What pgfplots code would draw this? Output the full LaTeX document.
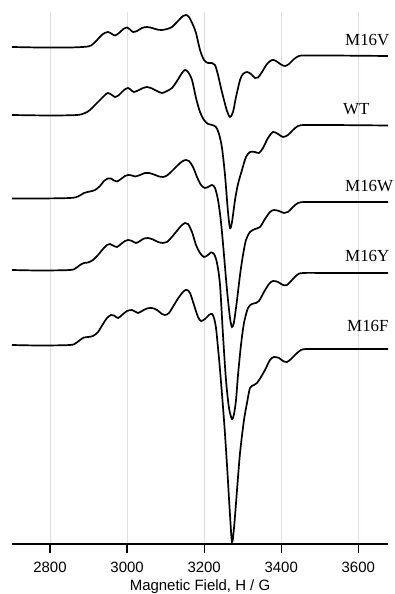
\documentclass[border=0pt]{standalone}
\usepackage{pgfplots}
\pgfplotsset{compat=1.18}
\usepackage{fontspec}
\setmainfont{Liberation Serif}
\newfontfamily\sansf{Liberation Sans}
\definecolor{gridc}{RGB}{222,222,234}

\pgfplotstableread{
x y
2701.4 -47
2774.0 -47.5
2851.9 -47.5
2898.6 -46.5
2911.6 -44
2924.6 -39
2937.5 -34
2950.5 -32
2960.9 -34
2968.7 -35.5
2979.1 -33
2992.0 -28.5
2999.8 -27.5
3007.6 -29.5
3015.4 -32
3025.8 -31
3038.7 -28
3051.7 -27
3064.7 -28
3077.7 -29.5
3090.6 -30
3103.6 -29
3116.6 -27
3132.2 -21
3145.1 -16
3152.9 -15
3160.7 -17
3171.1 -25
3178.9 -33
3189.3 -50
3199.6 -60
3210.0 -63
3220.4 -63
3228.2 -65
3236.0 -75
3243.7 -88
3251.5 -100
3259.3 -111
3267.1 -117
3274.9 -112
3282.7 -97
3293.1 -80
3300.8 -74
3311.2 -72
3321.6 -74
3332.0 -78
3339.8 -77.5
3350.1 -72
3363.1 -64
3376.1 -60
3386.5 -61
3399.4 -64.5
3409.8 -66
3420.2 -64
3433.2 -59
3446.2 -56
3461.7 -55.5
3526.6 -55.5
3677.1 -56
}\Vdata

\pgfplotstableread{
x y
2701.4 -115
2800.0 -115.5
2870.1 -115
2890.8 -113
2903.8 -110
2916.8 -105
2929.8 -100
2942.7 -95
2950.5 -93
2960.9 -95
2968.7 -97
2979.1 -95
2992.0 -90
3002.4 -88
3010.2 -90
3018.0 -92
3031.0 -90
3041.3 -88
3051.7 -87
3064.7 -88.5
3077.7 -91
3090.6 -93
3103.6 -91
3116.6 -88
3129.6 -81
3142.5 -73
3150.3 -70
3158.1 -72
3168.5 -80
3178.9 -98
3189.3 -112
3199.6 -120
3210.0 -124
3220.4 -125
3230.8 -127
3238.6 -134
3246.3 -148
3254.1 -175
3261.9 -212
3267.1 -228
3272.3 -222
3280.1 -200
3287.9 -184
3298.2 -170
3308.6 -157
3319.0 -152
3332.0 -152
3342.4 -153
3352.7 -148
3365.7 -138
3378.7 -132
3391.7 -134
3404.6 -137
3417.6 -135
3430.6 -130
3443.6 -126
3461.7 -125
3526.6 -125
3677.1 -125.5
}\WTdata

\pgfplotstableread{
x y
2701.4 -198.5
2774.0 -198.5
2851.9 -198
2872.7 -196.5
2888.2 -193
2903.8 -191.5
2916.8 -190
2929.8 -186
2940.1 -181
2950.5 -178.5
2958.3 -178.5
2966.1 -180.5
2973.9 -181.5
2984.2 -179
2994.6 -176
3002.4 -175
3012.8 -175.5
3020.6 -176.5
3033.6 -175
3046.5 -173
3056.9 -173
3069.9 -174.5
3082.9 -176.5
3093.2 -177
3103.6 -175.5
3116.6 -171
3129.6 -166
3142.5 -161.5
3152.9 -160
3160.7 -161
3171.1 -167
3181.5 -177
3191.9 -185
3202.2 -188
3212.6 -186.5
3220.4 -185
3228.2 -188
3236.0 -200
3243.7 -222
3251.5 -255
3259.3 -290
3267.1 -318
3272.3 -327
3277.5 -322
3285.3 -300
3293.1 -275
3300.8 -255
3308.6 -240
3319.0 -232
3332.0 -229
3345.0 -227
3357.9 -219
3370.9 -212
3381.3 -210
3394.3 -211
3407.2 -213
3417.6 -212
3430.6 -207
3443.6 -203
3461.7 -202
3526.6 -202
3677.1 -202
}\Wdata

\pgfplotstableread{
x y
2701.4 -270
2774.0 -270.5
2851.9 -270
2867.5 -268
2877.9 -265
2888.2 -263
2898.6 -262.5
2911.6 -260
2924.6 -255
2937.5 -249
2947.9 -245
2955.7 -244
2963.5 -245.5
2973.9 -247
2984.2 -244
2994.6 -241
3002.4 -240
3012.8 -241
3023.2 -243
3033.6 -241
3043.9 -238.5
3054.3 -238
3067.3 -239.5
3080.3 -242
3093.2 -243
3103.6 -242
3114.0 -238
3127.0 -232
3139.9 -226
3150.3 -223
3158.1 -224
3168.5 -232
3178.9 -245
3189.3 -253
3199.6 -257
3210.0 -255
3217.8 -252.5
3225.6 -254
3233.4 -263
3241.2 -285
3248.9 -335
3256.7 -380
3264.5 -408
3272.3 -419
3277.5 -414
3282.7 -400
3287.9 -375
3295.6 -345
3303.4 -323
3313.8 -308
3324.2 -304
3334.6 -303
3342.4 -301
3355.3 -292
3368.3 -284
3378.7 -281
3391.7 -282
3404.6 -285
3415.0 -285
3428.0 -280
3441.0 -275
3456.5 -273
3526.6 -273
3677.1 -273
}\Ydata

\pgfplotstableread{
x y
2701.4 -345
2774.0 -345.5
2851.9 -345
2867.5 -343
2877.9 -340
2888.2 -337.5
2898.6 -337
2911.6 -336
2924.6 -332
2937.5 -324
2947.9 -318
2958.3 -315
2966.1 -315.5
2976.5 -318
2986.8 -315
2999.8 -311
3012.8 -310
3020.6 -311.5
3028.4 -313
3038.7 -311
3051.7 -308.5
3064.7 -308
3077.7 -310
3090.6 -314
3098.4 -315
3108.8 -313
3121.8 -305
3134.8 -297
3147.7 -291
3155.5 -290
3163.3 -293
3173.7 -305
3184.1 -317
3191.9 -321
3202.2 -319
3212.6 -315
3220.4 -314
3225.6 -318
3230.8 -328
3236.0 -348
3241.2 -370
3251.5 -420
3259.3 -465
3267.1 -515
3272.3 -542
3277.5 -528
3285.3 -490
3293.1 -453
3303.4 -420
3311.2 -403
3319.0 -388
3329.4 -385
3337.2 -383
3347.5 -377
3357.9 -370
3370.9 -360
3381.3 -357
3394.3 -358
3404.6 -361
3415.0 -362
3425.4 -359
3438.4 -354
3451.3 -350
3466.9 -349
3526.6 -349
3677.1 -349
}\Fdata

\begin{document}
\begin{tikzpicture}
\useasboundingbox (-12bp,-50bp) rectangle (383bp,544bp);
\begin{axis}[
  at={(0,0)}, anchor=south west,
  scale only axis, width=376bp, height=532bp,
  xmin=2701.4, xmax=3677.1, ymin=-544, ymax=-12,
  axis x line*=bottom, axis y line=none,
  x axis line style={line width=1.2bp, -},
  xtick={2800,3000,3200,3400,3600},
  tick align=outside, major tick length=9bp,
  xtick style={line width=1.2bp, black},
  xmajorgrids, grid style={gridc, line width=0.6bp},
  /pgf/number format/assume math mode=true,
  /pgf/number format/1000 sep={},
  xticklabel style={font=\sansf\fontsize{15}{15}\selectfont, yshift=-6bp},
  xlabel={Magnetic Field, H / G},
  xlabel style={font=\sansf\fontsize{15}{15}\selectfont, at={(axis description cs:0.5,0)}, anchor=base, yshift=-46bp},
  clip=false,
]
\addplot[black, line width=1.7bp, smooth, tension=0.5] table {\Vdata};
\addplot[black, line width=1.7bp, smooth, tension=0.5] table {\WTdata};
\addplot[black, line width=1.7bp, smooth, tension=0.5] table {\Wdata};
\addplot[black, line width=1.7bp, smooth, tension=0.5] table {\Ydata};
\addplot[black, line width=1.7bp, smooth, tension=0.5] table {\Fdata};
\node[anchor=base west, inner sep=0pt, font=\fontsize{17}{17}\selectfont] at (axis cs:3565.5,-46) {M16V};
\node[anchor=base west, inner sep=0pt, font=\fontsize{17}{17}\selectfont] at (axis cs:3560.3,-115) {WT};
\node[anchor=base west, inner sep=0pt, font=\fontsize{17}{17}\selectfont] at (axis cs:3565.5,-192) {M16W};
\node[anchor=base west, inner sep=0pt, font=\fontsize{17}{17}\selectfont] at (axis cs:3565.5,-262) {M16Y};
\node[anchor=base west, inner sep=0pt, font=\fontsize{17}{17}\selectfont] at (axis cs:3570.7,-332) {M16F};
\end{axis}
\end{tikzpicture}
\end{document}
